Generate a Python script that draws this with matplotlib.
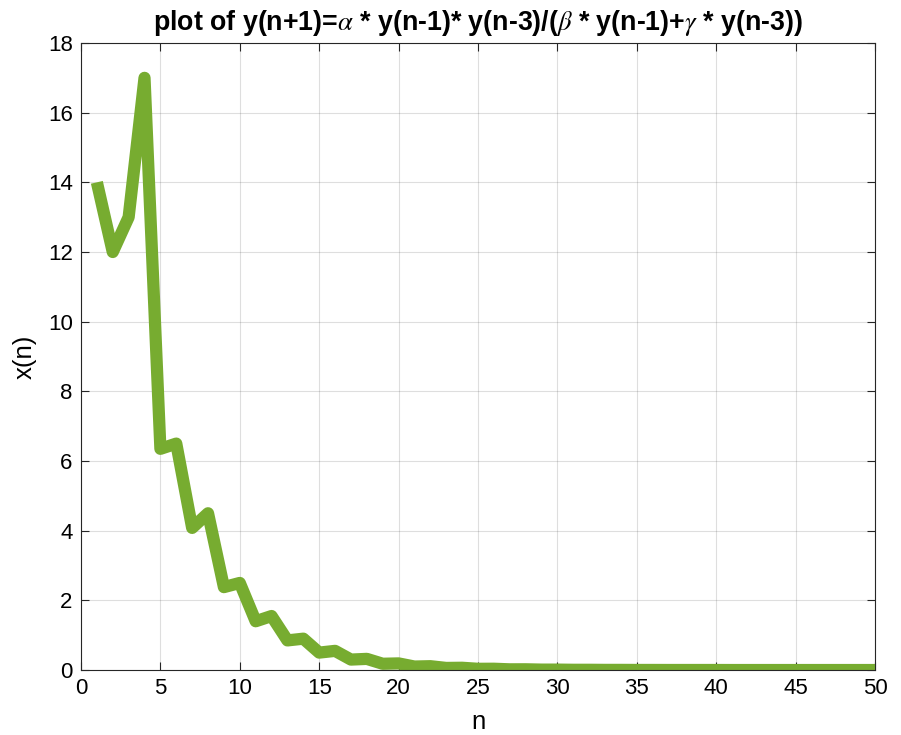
import numpy as np
import matplotlib
matplotlib.use('Agg')
import matplotlib.pyplot as plt

plt.rcParams['font.family'] = ['Liberation Sans', 'DejaVu Sans']
plt.rcParams['mathtext.fontset'] = 'stix'

# sequence values
n = np.arange(1, 51)
x_n = [14.0, 12.0, 13.0, 17.0, 6.35, 6.5, 4.08, 4.5, 2.38, 2.5,
       1.4, 1.55, 0.85, 0.9, 0.5, 0.55, 0.3, 0.32, 0.18, 0.19,
       0.1, 0.11, 0.06, 0.065, 0.035, 0.037, 0.02, 0.021, 0.012, 0.012,
       0.007, 0.007, 0.004, 0.004, 0.002, 0.002, 0.001, 0.001, 0.001, 0.001,
       0.0, 0.0, 0.0, 0.0, 0.0, 0.0, 0.0, 0.0, 0.0, 0.0]
x_ticks = list(range(0, 51, 5))
y_ticks = list(range(0, 19, 2))

fig = plt.figure(figsize=(9.01, 7.35), dpi=100)
ax = fig.add_axes([0.0899, 0.0884, 0.8812, 0.8531])

ax.plot(n, x_n, color='#77ac30', lw=8.8, solid_capstyle='butt',
        solid_joinstyle='round')

ax.set_xlim(0, 50)
ax.set_ylim(0, 18)
ax.set_xticks(x_ticks)
ax.set_yticks(y_ticks)
ax.grid(True, color='#262626', alpha=0.15, lw=0.8)
ax.set_axisbelow(True)
ax.tick_params(direction='in', top=True, right=True, length=6, width=0.8,
               labelsize=16, colors='#262626', labelcolor='black', pad=6)
for s in ax.spines.values():
    s.set_color('#262626')
    s.set_linewidth(0.8)

ax.set_xlabel('n', fontsize=18.5, labelpad=8)
ax.set_ylabel('x(n)', fontsize=18.5, labelpad=8)
ax.set_title(r'plot of y(n+1)=$\alpha$ * y(n-1)* y(n-3)/($\beta$ * y(n-1)+$\gamma$ * y(n-3))',
             fontsize=19.3, fontweight='bold', pad=9)

fig.savefig('out.png', dpi=100)
